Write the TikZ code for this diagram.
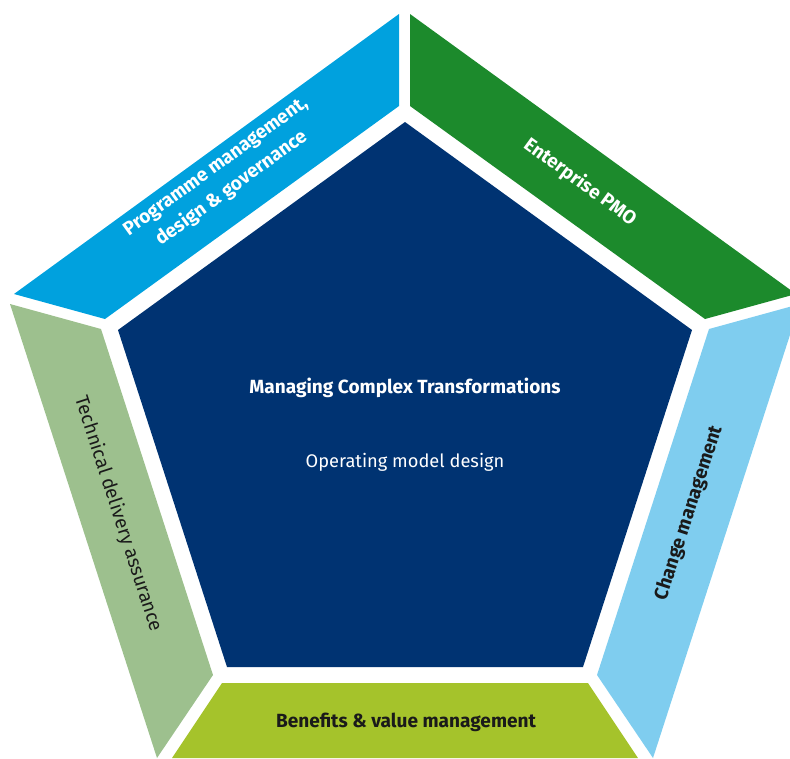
\documentclass[tikz,border=0pt]{standalone}
\usepackage{fontspec}
\setmainfont{Fira Sans}
\definecolor{cblue}{HTML}{00A1DE}
\definecolor{cgreen}{HTML}{1C8A2C}
\definecolor{clight}{HTML}{7FCDEF}
\definecolor{clime}{HTML}{A5C32B}
\definecolor{csage}{HTML}{9DC08E}
\definecolor{cnavy}{HTML}{003372}
\definecolor{cdark}{HTML}{1A1A1A}
\begin{document}
\begin{tikzpicture}[x=0.75pt,y=-0.75pt,
  seg/.style={draw=none},
  lbl/.style={font=\fontsize{14.3}{17}\selectfont\bfseries, align=center, inner sep=0pt},
  lblreg/.style={font=\fontsize{13.7}{17}\selectfont, align=center, inner sep=0pt}]
\useasboundingbox (0,0) rectangle (790,758);
\clip (0,0) rectangle (790,758);
% segments
\fill[seg, cblue] (14,294) -- (399,14) -- (399,106) -- (105,319) -- cycle;
\fill[seg, cgreen] (410,14) -- (796,294) -- (705,319) -- (410,106) -- cycle;
\fill[seg, clight] (800,304) -- (709,329) -- (597,675) -- (653,758) -- cycle;
\fill[seg, clime] (222,683) -- (588,683) -- (638,758) -- (172,758) -- cycle;
\fill[seg, csage] (10,304) -- (101,329) -- (213,675) -- (157,758) -- cycle;
\fill[seg, cnavy] (405,122) -- (692,330) -- (583,667) -- (227,667) -- (118,330) -- cycle;
% labels
\node[lbl, text=white] (title) at (405,388) {Managing Complex Transformations};
\node[lblreg, text=white] (sub) at (405,462) {Operating model design};
\node[lbl, text=white, rotate=36, font=\fontsize{14.3}{20}\selectfont\bfseries] (prog) at (224,178) {Programme management,\\design \& governance};
\node[lbl, text=white, rotate=-36] (pmo) at (580,182) {Enterprise PMO};
\node[lbl, text=cdark, rotate=72] (chg) at (689,513) {Change management};
\node[lblreg, text=cdark, rotate=-72, font=\fontsize{14.3}{17}\selectfont] (tech) at (118,514) {Technical delivery assurance};
\node[lbl, text=cdark] (ben) at (406,722) {Benefits \& value management};
\end{tikzpicture}
\end{document}
